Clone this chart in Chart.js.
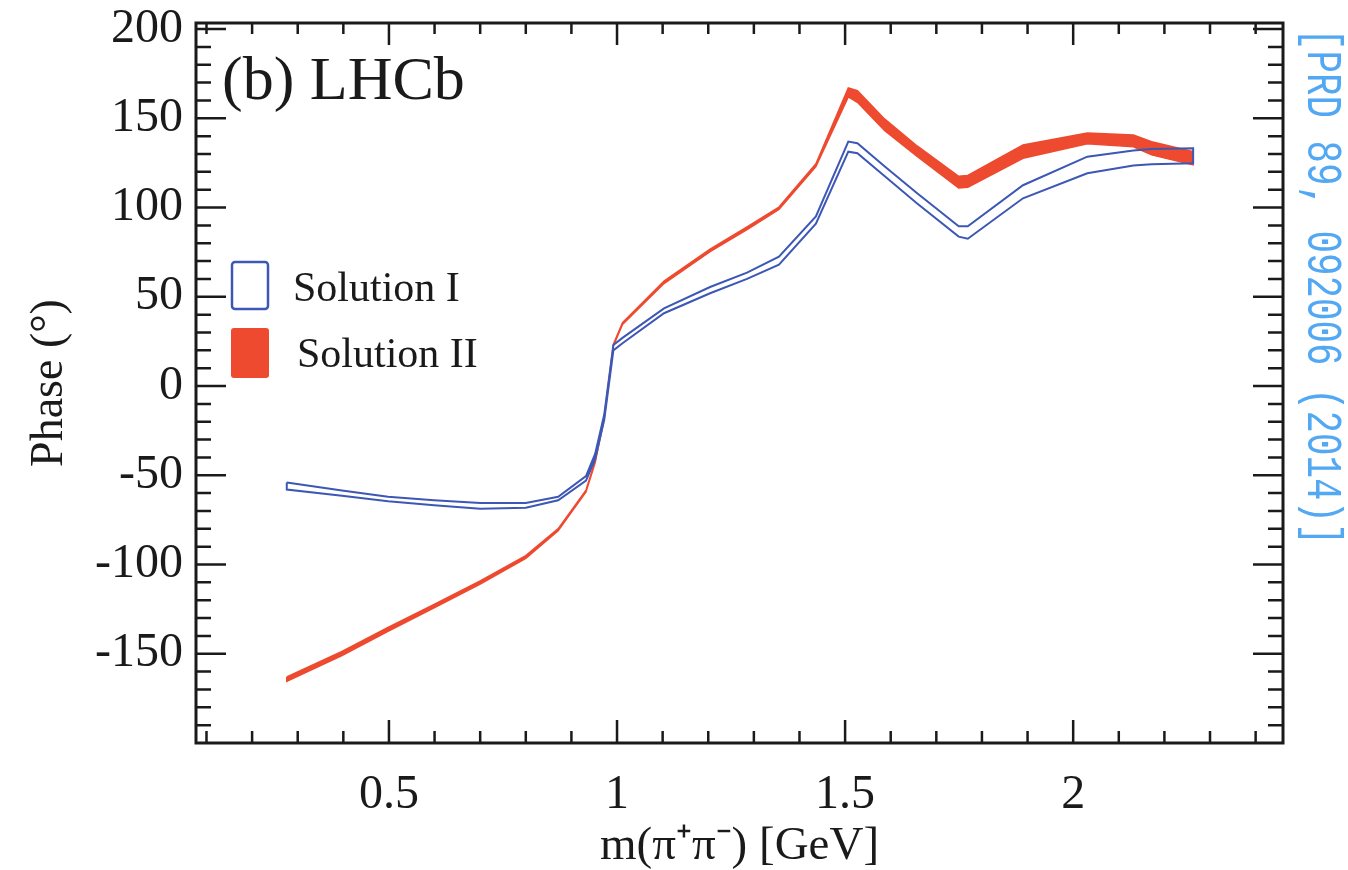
<!DOCTYPE html>
<html>
<head>
<meta charset="utf-8">
<script src="https://cdn.jsdelivr.net/npm/chart.js@4.4.1/dist/chart.umd.min.js"></script>
<style>
html, body { margin: 0; padding: 0; background: #fff; }
</style>
</head>
<body>
<canvas id="phaseChart" width="1348" height="870"></canvas>
<script>
// m(pi+ pi-) sampling points [GeV]
var massGeV = [0.276, 0.397, 0.498, 0.599, 0.700, 0.800, 0.871, 0.932, 0.952, 0.972, 0.992, 1.012, 1.103, 1.204,
               1.285, 1.355, 1.436, 1.507, 1.527, 1.587, 1.658, 1.749, 1.769, 1.890, 2.031, 2.132, 2.172, 2.263];

// Solution I band (upper / lower edge), degrees
var sol1Upper = [-54, -58.5, -62, -64, -65.5, -65.5, -62, -50.5, -38, -16, 23, 27, 43.5, 55.5,
                 63.5, 72.5, 95, 137, 136, 123, 108, 89.5, 89.5, 112.5, 128.5, 132, 132.8, 133.2];
var sol1Lower = [-58, -61.5, -64.5, -66.8, -68.8, -68.2, -64, -53, -41, -19, 20, 24, 40.8, 52,
                 60, 68, 91, 131.3, 130.4, 117.5, 102.3, 83.7, 82.5, 105.2, 119.2, 123.5, 124.2, 124.8];

// Solution II band (upper / lower edge), degrees
var sol2Upper = [-163, -148.7, -135.2, -122.3, -109.2, -95, -79.9, -58.3, -42, -17, 23.5, 35.5, 58.8, 76.7,
                 89.1, 100.3, 124.5, 167, 165.5, 149.5, 134.5, 117.5, 118, 135.1, 141.7, 140.6, 136.9, 131.3];
var sol2Lower = [-165.5, -151, -137.4, -124.3, -111, -96.6, -81.1, -59.3, -43, -18, 22.5, 34.5, 57.4, 75.3,
                 87.7, 98.9, 123, 162, 159, 143, 128.6, 111, 111.3, 127.6, 135.8, 134, 129.5, 123.9];

var seriesLabels = ['Solution I', 'Solution II'];
var xTickValues = [0.5, 1, 1.5, 2];
var yTickValues = [-150, -100, -50, 0, 50, 100, 150, 200];

var BLUE = '#3d57b5';
var RED = '#ed4a2f';
var INK = '#1a1a1a';
var SERIF = "'Liberation Serif', 'Times New Roman', serif";

// closed outline: upper edge left->right, lower edge right->left
function bandOutline(upper, lower) {
    var pts = [];
    for (var i = 0; i < massGeV.length; i++) pts.push({ x: massGeV[i], y: upper[i] });
    for (var j = massGeV.length - 1; j >= 0; j--) pts.push({ x: massGeV[j], y: lower[j] });
    pts.push({ x: massGeV[0], y: upper[0] });
    return pts;
}

function noEdgePadding(scale) {
    scale.paddingTop = 0;
    scale.paddingBottom = 0;
    scale.paddingLeft = 0;
    scale.paddingRight = 0;
}

var framePlugin = {
    id: 'rootFrame',
    afterDatasetsDraw: function(chart) {
        var ctx = chart.ctx;
        var a = chart.chartArea;
        var xs = chart.scales.x, ys = chart.scales.y;
        ctx.save();
        ctx.strokeStyle = INK;
        ctx.lineWidth = 2.5;
        ctx.beginPath();
        for (var i = 1; i <= 24; i++) {
            var px = xs.getPixelForValue(i / 10);
            var major = i % 5 === 0;
            ctx.moveTo(px, a.bottom); ctx.lineTo(px, a.bottom - (major ? 23 : 12));
            ctx.moveTo(px, a.top); ctx.lineTo(px, a.top + (major ? 22 : 11));
        }
        for (var k = -19; k <= 20; k++) {
            var v = k * 10;
            if (v > ys.max) continue;
            var py = ys.getPixelForValue(v);
            var big = v % 50 === 0;
            ctx.moveTo(a.left, py); ctx.lineTo(a.left + (big ? 30 : 15), py);
            ctx.moveTo(a.right, py); ctx.lineTo(a.right - (big ? 30 : 15), py);
        }
        ctx.stroke();
        ctx.lineWidth = 3;
        ctx.strokeRect(a.left, a.top, a.right - a.left, a.bottom - a.top);
        ctx.restore();
    },
    afterDraw: function(chart) {
        var ctx = chart.ctx;
        ctx.save();
        // panel label
        ctx.fillStyle = INK;
        ctx.font = '62px ' + SERIF;
        ctx.textBaseline = 'alphabetic';
        ctx.textAlign = 'left';
        ctx.fillText('(b) LHCb', 222, 99);

        // legend
        ctx.lineWidth = 2.5;
        ctx.strokeStyle = BLUE;
        ctx.beginPath();
        ctx.roundRect(232, 262, 36, 47, 3);
        ctx.stroke();
        ctx.fillStyle = RED;
        ctx.beginPath();
        ctx.roundRect(231, 328, 38, 50, 3);
        ctx.fill();
        ctx.fillStyle = INK;
        ctx.font = '42px ' + SERIF;
        ctx.fillText(seriesLabels[0], 293, 301);
        ctx.fillText(seriesLabels[1], 297, 367);

        // reference note on the right edge (condensed mono)
        ctx.translate(1321, 28);
        ctx.rotate(Math.PI / 2);
        ctx.scale(0.75, 1);
        ctx.fillStyle = '#52a8f2';
        ctx.font = "50px 'Liberation Mono', monospace";
        ctx.textBaseline = 'middle';
        ctx.fillText('[PRD 89, 092006 (2014)]', 0, 0);
        ctx.restore();
    }
};

var phaseCtx = document.getElementById('phaseChart').getContext('2d');
var phaseChart = new Chart(phaseCtx, {
    type: 'scatter',
    data: {
        datasets: [{
            label: seriesLabels[0],
            data: bandOutline(sol1Upper, sol1Lower),
            showLine: true,
            borderColor: BLUE,
            borderWidth: 2,
            fill: false,
            pointRadius: 0,
            tension: 0
        }, {
            label: seriesLabels[1],
            data: bandOutline(sol2Upper, sol2Lower),
            showLine: true,
            borderColor: RED,
            backgroundColor: RED,
            borderWidth: 1.5,
            fill: 'shape',
            pointRadius: 0,
            tension: 0
        }]
    },
    options: {
        responsive: false,
        devicePixelRatio: 1,
        animation: false,
        layout: { padding: { top: 23, right: 65, left: 0, bottom: 0 } },
        plugins: {
            legend: { display: false },
            tooltip: { enabled: false }
        },
        scales: {
            x: {
                type: 'linear',
                position: 'bottom',
                min: 0.077,
                max: 2.46,
                grid: { display: false, drawTicks: false },
                border: { display: false },
                afterBuildTicks: function(scale) {
                    scale.ticks = xTickValues.map(function(v) { return { value: v }; });
                },
                afterFit: function(scale) { scale.height = 127; noEdgePadding(scale); },
                ticks: {
                    color: INK,
                    font: { family: SERIF, size: 48 },
                    padding: 24,
                    maxRotation: 0,
                    autoSkip: false,
                    callback: function(v) { return String(v); }
                },
                title: {
                    display: true,
                    text: 'm(\u03c0\u207a\u03c0\u207b) [GeV]',
                    color: INK,
                    font: { family: SERIF, size: 47, lineHeight: 1 },
                    padding: { top: 0, bottom: 0 }
                }
            },
            y: {
                type: 'linear',
                position: 'left',
                min: -200,
                max: 203.4,
                grid: { display: false, drawTicks: false },
                border: { display: false },
                afterBuildTicks: function(scale) {
                    scale.ticks = yTickValues.map(function(v) { return { value: v }; });
                },
                afterFit: function(scale) { scale.width = 196; noEdgePadding(scale); },
                ticks: {
                    color: INK,
                    font: { family: SERIF, size: 48 },
                    padding: 13,
                    autoSkip: false,
                    callback: function(v) { return String(v); }
                },
                title: {
                    display: true,
                    text: 'Phase (\u00b0)',
                    color: INK,
                    font: { family: SERIF, size: 46, lineHeight: 1 },
                    padding: { top: 27, bottom: 0 }
                }
            }
        }
    },
    plugins: [framePlugin]
});
</script>
</body>
</html>
